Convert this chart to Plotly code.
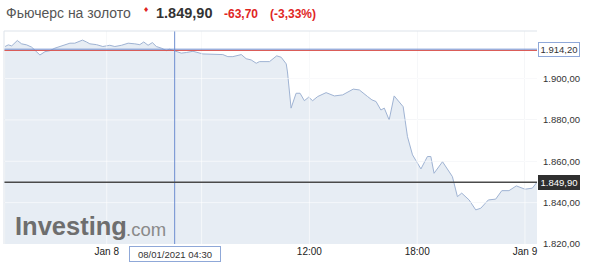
import plotly.graph_objects as go

# ---- data ----
hours = [-4.94, -4.76, -4.57, -4.26, -4.02, -3.74, -3.46, -3.0, -2.72, -2.44,
         -2.17, -1.89, -1.61, -1.33, -1.06, -0.89, -0.63, -0.41, -0.22, 0.15,
         0.5, 0.89, 1.17, 1.54, 1.91, 2.28, 2.56, 2.78, 3.02, 3.26,
         3.48, 3.76, 4.04, 4.22, 4.46, 4.87, 5.15, 5.52, 6.07, 7.18,
         7.46, 7.74, 8.21, 8.48, 8.76, 9.04, 9.22, 9.78, 10.18, 10.43,
         10.71, 10.78, 10.98, 11.26, 11.48, 11.72, 11.96, 12.18, 12.46, 12.93,
         13.39, 13.85, 14.44, 14.78, 15.24, 15.48, 15.71, 15.98, 16.17, 16.44,
         16.72, 17.0, 17.22, 17.46, 17.65, 17.74, 18.21, 18.57, 18.76, 18.94,
         19.41, 19.82, 19.96, 20.24, 20.48, 20.89, 21.26, 21.54, 21.96, 22.37,
         22.71, 23.11, 23.52, 24.0, 24.41, 24.67]
prices = [1915.5, 1916.3, 1915.8, 1918.4, 1916.8, 1916.3, 1915.2, 1911.4, 1913.0, 1913.5,
          1914.7, 1915.5, 1916.3, 1917.1, 1917.1, 1917.7, 1918.6, 1917.7, 1916.8, 1916.4,
          1915.5, 1916.1, 1915.5, 1916.1, 1917.1, 1916.8, 1916.4, 1917.7, 1916.1, 1917.4,
          1915.5, 1914.7, 1913.5, 1914.2, 1913.5, 1912.3, 1912.6, 1913.2, 1911.9, 1911.6,
          1910.6, 1910.6, 1911.6, 1909.6, 1909.0, 1907.4, 1908.2, 1908.2, 1911.0, 1910.3,
          1907.1, 1903.2, 1885.7, 1892.9, 1892.9, 1889.3, 1891.0, 1889.3, 1891.3, 1893.2,
          1891.6, 1892.1, 1894.9, 1894.5, 1891.3, 1889.7, 1888.9, 1884.8, 1885.7, 1880.0,
          1891.6, 1888.9, 1886.4, 1871.9, 1865.5, 1863.1, 1856.3, 1862.3, 1862.3, 1854.2,
          1859.8, 1854.2, 1852.6, 1842.9, 1844.6, 1841.3, 1836.5, 1837.3, 1841.3, 1841.7,
          1845.8, 1845.8, 1848.1, 1846.5, 1847.0, 1849.9]

x_tick_vals = [0.72, 6, 12, 18, 24]
x_tick_text = ["Jan 8", "", "12:00", "18:00", "Jan 9"]  # 06:00 hidden under crosshair label
y_tick_vals = [1820, 1840, 1860, 1880, 1900]

change = -63.70
prev_close = round(prices[-1] - change, 2)
hover_hour = 4.5
hover_price = 1914.20
hover_label = "08/01/2021 04:30"
title_name = "Фьючерс на золото"


def fmt(v, signed=False):
    s = f"{abs(v):,.2f}".replace(",", " ").replace(".", ",").replace(" ", ".")
    if v < 0:
        s = "-" + s
    elif signed:
        s = "+" + s
    return s


pct = change / prev_close * 100

# ---- layout geometry ----
W, H = 590, 276
ML, MR, MT, MB = 4, 53, 31, 32
PW, PH = W - ML - MR, H - MT - MB


def px_x(px):
    return (px - ML) / PW


def px_y(py):
    return (H - MB - py) / PH


FONT = "Liberation Sans, Arial, sans-serif"

fig = go.Figure()
fig.add_trace(go.Scatter(
    x=hours, y=prices, mode="lines",
    line=dict(color="#9fb3d3", width=1),
    fill="tozeroy", fillcolor="#e7edf4",
    hoverinfo="skip", showlegend=False,
))

shapes = []
# faint light grid over the fill
for v in x_tick_vals:
    shapes.append(dict(type="line", xref="x", yref="paper", x0=v, x1=v, y0=0, y1=1,
                       line=dict(color="rgba(255,255,255,0.6)", width=1), layer="above"))
for v in y_tick_vals[1:]:
    shapes.append(dict(type="line", xref="paper", yref="y", x0=0, x1=1, y0=v, y1=v,
                       line=dict(color="rgba(255,255,255,0.6)", width=1), layer="above"))
# previous close (red) and crosshair horizontal (blue)
shapes.append(dict(type="line", xref="paper", yref="y", x0=0, x1=1, y0=prev_close, y1=prev_close,
                   line=dict(color="#d9534f", width=1), layer="above"))
shapes.append(dict(type="line", xref="paper", yref="y", x0=0, x1=1, y0=hover_price, y1=hover_price,
                   line=dict(color="#6f8fd0", width=1), layer="above"))
# crosshair vertical
shapes.append(dict(type="line", xref="x", yref="paper", x0=hover_hour, x1=hover_hour, y0=0, y1=1,
                   line=dict(color="#6f8fd0", width=1), layer="above"))
# last price line
shapes.append(dict(type="line", xref="paper", yref="y", x0=0, x1=1, y0=prices[-1], y1=prices[-1],
                   line=dict(color="#4a4a4a", width=1.5), layer="above"))
# plot border (top/left)
shapes.append(dict(type="line", xref="paper", yref="paper", x0=0, x1=1, y0=1, y1=1,
                   line=dict(color="#dde3ea", width=1), layer="above"))
shapes.append(dict(type="line", xref="paper", yref="paper", x0=0, x1=0, y0=0, y1=1,
                   line=dict(color="#dde3ea", width=1), layer="above"))

annotations = [
    # title row
    dict(text=title_name, xref="paper", yref="paper", x=px_x(4), y=px_y(13),
         xanchor="left", yanchor="middle", showarrow=False,
         font=dict(family=FONT, size=14, color="#555555")),
    dict(text="♦", xref="paper", yref="paper", x=px_x(141), y=px_y(10),
         xanchor="left", yanchor="middle", showarrow=False,
         font=dict(family="DejaVu Sans", size=7, color="#e0261f")),
    dict(text="<b>" + fmt(prices[-1]) + "</b>", xref="paper", yref="paper", x=px_x(154), y=px_y(13),
         xanchor="left", yanchor="middle", showarrow=False,
         font=dict(family=FONT, size=14.5, color="#333333")),
    dict(text="<b>" + fmt(change) + "</b>", xref="paper", yref="paper", x=px_x(222), y=px_y(14),
         xanchor="left", yanchor="middle", showarrow=False,
         font=dict(family=FONT, size=12, color="#e0261f")),
    dict(text="<b>(" + fmt(pct) + "%)</b>", xref="paper", yref="paper", x=px_x(268), y=px_y(14),
         xanchor="left", yanchor="middle", showarrow=False,
         font=dict(family=FONT, size=12, color="#e0261f")),
    # watermark
    dict(text="<b>Investing</b>", xref="paper", yref="paper", x=px_x(13), y=px_y(226),
         xanchor="left", yanchor="middle", showarrow=False,
         font=dict(family=FONT, size=25.5, color="#6e6e6e")),
    dict(text=".com", xref="paper", yref="paper", x=px_x(124), y=px_y(229),
         xanchor="left", yanchor="middle", showarrow=False,
         font=dict(family=FONT, size=18.5, color="#8a8a8a")),
    # crosshair labels
    dict(text=hover_label, xref="x", yref="paper", x=hover_hour, y=px_y(254),
         xanchor="center", yanchor="middle", showarrow=False, width=90, height=14,
         bgcolor="#ffffff", bordercolor="#8fa8d8", borderwidth=1, borderpad=0,
         font=dict(family=FONT, size=9.5, color="#333333")),
    dict(text=fmt(hover_price), xref="paper", yref="y", x=px_x(538), y=hover_price,
         xanchor="left", yanchor="middle", showarrow=False, width=40, height=13,
         bgcolor="#ffffff", bordercolor="#8fa8d8", borderwidth=1, borderpad=0,
         font=dict(family=FONT, size=9.5, color="#333333")),
    dict(text=fmt(prices[-1]), xref="paper", yref="y", x=px_x(538), y=prices[-1],
         xanchor="left", yanchor="middle", showarrow=False, width=40, height=13,
         bgcolor="#2f2f2f", bordercolor="#2f2f2f", borderwidth=1, borderpad=0,
         font=dict(family=FONT, size=9.5, color="#ffffff")),
]

fig.update_layout(
    width=W, height=H,
    margin=dict(l=ML, r=MR, t=MT, b=MB),
    paper_bgcolor="#ffffff", plot_bgcolor="#ffffff",
    separators=",.",
    showlegend=False,
    shapes=shapes,
    annotations=annotations,
    xaxis=dict(range=[-5.0, 24.67], tickvals=x_tick_vals, ticktext=x_tick_text,
               showgrid=True, gridcolor="#f0f2f5", zeroline=False, showline=False,
               ticks="", tickfont=dict(family=FONT, size=10, color="#222222"),
               fixedrange=True),
    yaxis=dict(range=[1820, 1923], side="right", tickvals=y_tick_vals, tickformat=",.2f",
               showgrid=True, gridcolor="#f0f2f5", zeroline=False, showline=False,
               ticks="", ticklabelstandoff=5,
               tickfont=dict(family=FONT, size=9.5, color="#333333"),
               fixedrange=True),
    hovermode=False,
)

fig.write_html("out.html", config={"displayModeBar": False})
